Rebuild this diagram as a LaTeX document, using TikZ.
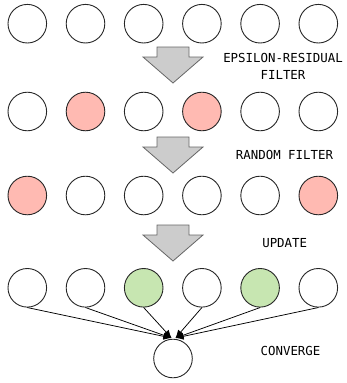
\documentclass[tikz,border=0pt]{standalone}
\usepackage{fontspec}
\usetikzlibrary{arrows.meta}
\newfontfamily\lbl{DejaVu Sans Mono}
\definecolor{pinkf}{HTML}{FFBAB2}
\definecolor{greenf}{HTML}{C7E6B1}
\begin{document}
\begin{tikzpicture}[x=1pt,y=-1pt,
  nd/.style={circle, draw=black!85, line width=0.9pt, minimum size=38.6pt, inner sep=0pt},
  pk/.style={nd, fill=pinkf},
  gr/.style={nd, fill=greenf},
  lab/.style={font=\lbl\fontsize{12.4}{16.7}\selectfont, align=center, inner sep=0pt},
  blk/.style={fill=black!20, draw=black!60, line width=0.8pt},
  con/.style={-{Latex[length=8pt,width=7pt]}, line width=0.75pt}]
\useasboundingbox (0,0) rectangle (347,383);
% row 1
\foreach \i in {1,...,6} \node[nd] (a\i) at ({27.3+58.2*(\i-1)},23.7) {};
% row 2
\node[nd] (b1) at (27.3,111.5) {};
\node[pk] (b2) at (85.5,111.5) {};
\node[nd] (b3) at (143.7,111.5) {};
\node[pk] (b4) at (201.9,111.5) {};
\node[nd] (b5) at (260.1,111.5) {};
\node[nd] (b6) at (318.3,111.5) {};
% row 3
\node[pk] (c1) at (27.3,195.5) {};
\node[nd] (c2) at (85.5,195.5) {};
\node[nd] (c3) at (143.7,195.5) {};
\node[nd] (c4) at (201.9,195.5) {};
\node[nd] (c5) at (260.1,195.5) {};
\node[pk] (c6) at (318.3,195.5) {};
% row 4
\node[nd] (d1) at (27.3,287.8) {};
\node[nd] (d2) at (85.5,287.8) {};
\node[gr] (d3) at (143.7,287.8) {};
\node[nd] (d4) at (201.9,287.8) {};
\node[gr] (d5) at (260.1,287.8) {};
\node[nd] (d6) at (318.3,287.8) {};
% bottom
\node[nd] (e) at (173,358.5) {};
% block arrows
\foreach \t in {47,137,225}
  \draw[blk] (157,\t) -- (189,\t) -- (189,\t+10) -- (203,\t+10) -- (173,\t+36) -- (143,\t+10) -- (157,\t+10) -- cycle;
% labels
\node[lab] (l1) at (283,66.7) {EPSILON-RESIDUAL\\FILTER};
\node[lab] (l2) at (284.5,155) {RANDOM FILTER};
\node[lab] (l3) at (284.7,243.5) {UPDATE};
\node[lab] (l4) at (290.5,351) {CONVERGE};
% converge arrows
\coordinate (cL) at (171.5,338);
\coordinate (cR) at (175.5,338);
\foreach \i in {1,2,3} \draw[con] (d\i.south) -- (cL);
\foreach \i in {4,5,6} \draw[con] (d\i.south) -- (cR);
\end{tikzpicture}
\end{document}
